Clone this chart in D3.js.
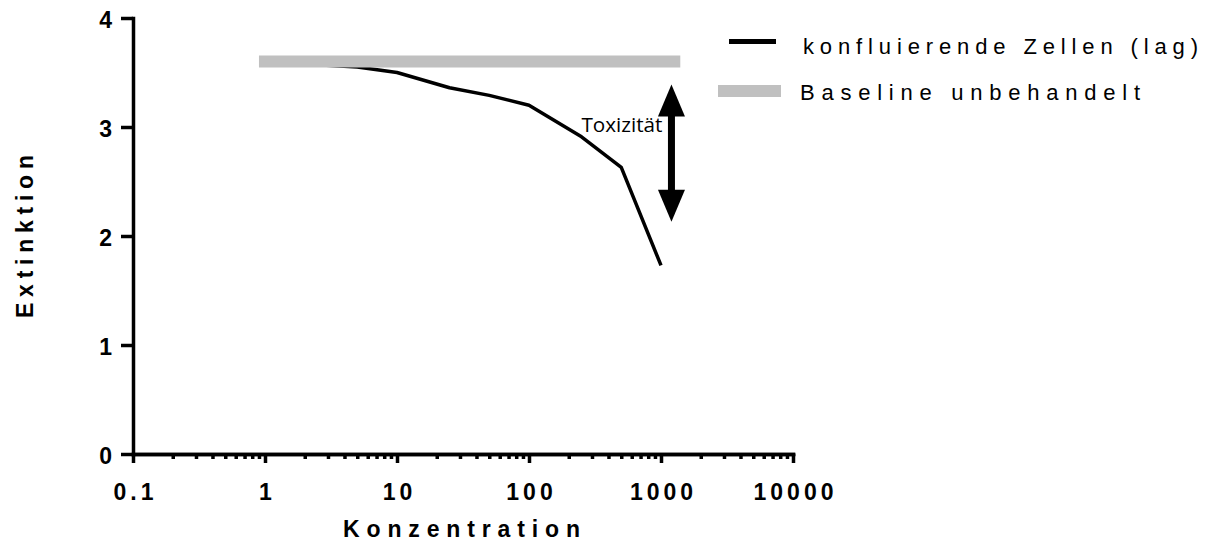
<!DOCTYPE html>
<html>
<head>
<meta charset="utf-8">
<script src="https://cdn.jsdelivr.net/npm/d3@7.9.0/dist/d3.min.js"></script>
<style>
  body { margin: 0; background: #fff; }
  svg { display: block; }
  .axis text { font-family: "Liberation Sans", Arial, sans-serif; font-weight: bold; font-size: 23px; fill: #000; }
  .axis path, .axis line { stroke: #000; stroke-width: 3.5; }
  .title { font-family: "Liberation Sans", Arial, sans-serif; font-weight: bold; font-size: 23px; }
  .legend text { font-family: "Liberation Sans", Arial, sans-serif; font-size: 22px; }
</style>
</head>
<body>
<svg width="1211" height="551"></svg>
<script>
// data
const concentrations = [1, 2.5, 5, 10, 25, 50, 100, 250, 500, 1000];
const extinction = [3.6, 3.57, 3.55, 3.5, 3.36, 3.29, 3.2, 2.91, 2.63, 1.73];
const baselineX = [0.9, 1400];
const baselineValue = 3.6;
const majorTicks = [0.1, 1, 10, 100, 1000, 10000];
const yTicks = [0, 1, 2, 3, 4];
const seriesNames = ["konfluierende Zellen (lag)", "Baseline unbehandelt"];
const arrowAt = 1200;
const arrowRange = [3.39, 2.13];

const svg = d3.select("svg");

const x = d3.scaleLog().domain([0.1, 10000]).range([133, 793]);
const y = d3.scaleLinear().domain([0, 4]).range([454, 18]);

// minor x ticks
const minor = x.ticks().filter((t) => !majorTicks.includes(t));
svg
  .append("g")
  .attr("class", "axis")
  .attr("transform", `translate(0,${y(0)})`)
  .call(d3.axisBottom(x).tickValues(minor).tickSize(5).tickSizeOuter(0).tickFormat(""));

const xAxis = svg
  .append("g")
  .attr("class", "axis")
  .attr("transform", `translate(0,${y(0)})`)
  .call(
    d3.axisBottom(x).tickValues(majorTicks).tickSize(9).tickSizeOuter(0).tickPadding(21)
      .tickFormat((d) => String(d)),
  );
xAxis.selectAll("text").attr("letter-spacing", 4).attr("dx", 2);

const yAxis = svg
  .append("g")
  .attr("class", "axis")
  .attr("transform", `translate(${x(0.1)},0)`)
  .call(d3.axisLeft(y).tickValues(yTicks).tickSize(12).tickSizeOuter(0).tickPadding(9).tickFormat(d3.format("d")));
yAxis.selectAll("text").attr("dy", "0.42em");
svg.selectAll(".axis .domain").attr("stroke-linecap", "square");

const line = d3.line().x((d) => x(d[0])).y((d) => y(d[1]));

// curve
svg
  .append("path")
  .attr("d", line(concentrations.map((c, i) => [c, extinction[i]])))
  .attr("fill", "none")
  .attr("stroke", "#000")
  .attr("stroke-width", 3.5)
  .attr("stroke-linejoin", "round");

// baseline (drawn over the curve start)
svg
  .append("path")
  .attr("d", line(baselineX.map((c) => [c, baselineValue])))
  .attr("fill", "none")
  .attr("stroke", "#c0c0c0")
  .attr("stroke-width", 12);

// double arrow
const ax = x(arrowAt);
const arrowTop = y(arrowRange[0]);
const arrowBot = y(arrowRange[1]);
const headL = 32, headW = 13.5;
svg.append("rect")
  .attr("x", ax - 3.5).attr("y", arrowTop + headL - 1)
  .attr("width", 7).attr("height", arrowBot - arrowTop - 2 * headL + 2)
  .attr("fill", "#000");
svg.append("path")
  .attr("d", `M${ax},${arrowTop}L${ax + headW},${arrowTop + headL}L${ax - headW},${arrowTop + headL}Z`)
  .attr("fill", "#000");
svg.append("path")
  .attr("d", `M${ax},${arrowBot}L${ax + headW},${arrowBot - headL}L${ax - headW},${arrowBot - headL}Z`)
  .attr("fill", "#000");
svg.append("text")
  .attr("x", ax - 9)
  .attr("y", arrowTop + 48)
  .attr("text-anchor", "end")
  .attr("font-family", "'Open Sans', 'Noto Sans', sans-serif")
  .attr("font-size", 20)
  .attr("textLength", 81)
  .attr("lengthAdjust", "spacingAndGlyphs")
  .text("Toxizität");

// axis titles
svg.append("text")
  .attr("class", "title")
  .attr("x", 343)
  .attr("y", 537)
  .attr("textLength", 237)
  .attr("lengthAdjust", "spacing")
  .text("Konzentration");
svg.append("text")
  .attr("class", "title")
  .attr("transform", "translate(33,318) rotate(-90)")
  .attr("textLength", 163)
  .attr("lengthAdjust", "spacing")
  .text("Extinktion");

// legend
const legend = svg.append("g").attr("class", "legend");
legend.append("line")
  .attr("x1", 729).attr("x2", 776).attr("y1", 41.5).attr("y2", 41.5)
  .attr("stroke", "#000").attr("stroke-width", 5);
legend.append("line")
  .attr("x1", 718).attr("x2", 781).attr("y1", 91).attr("y2", 91)
  .attr("stroke", "#c0c0c0").attr("stroke-width", 12);
legend.append("text")
  .attr("x", 803).attr("y", 54)
  .attr("textLength", 395).attr("lengthAdjust", "spacing")
  .text(seriesNames[0]);
legend.append("text")
  .attr("x", 800).attr("y", 100)
  .attr("textLength", 340).attr("lengthAdjust", "spacing")
  .text(seriesNames[1]);
</script>
</body>
</html>
